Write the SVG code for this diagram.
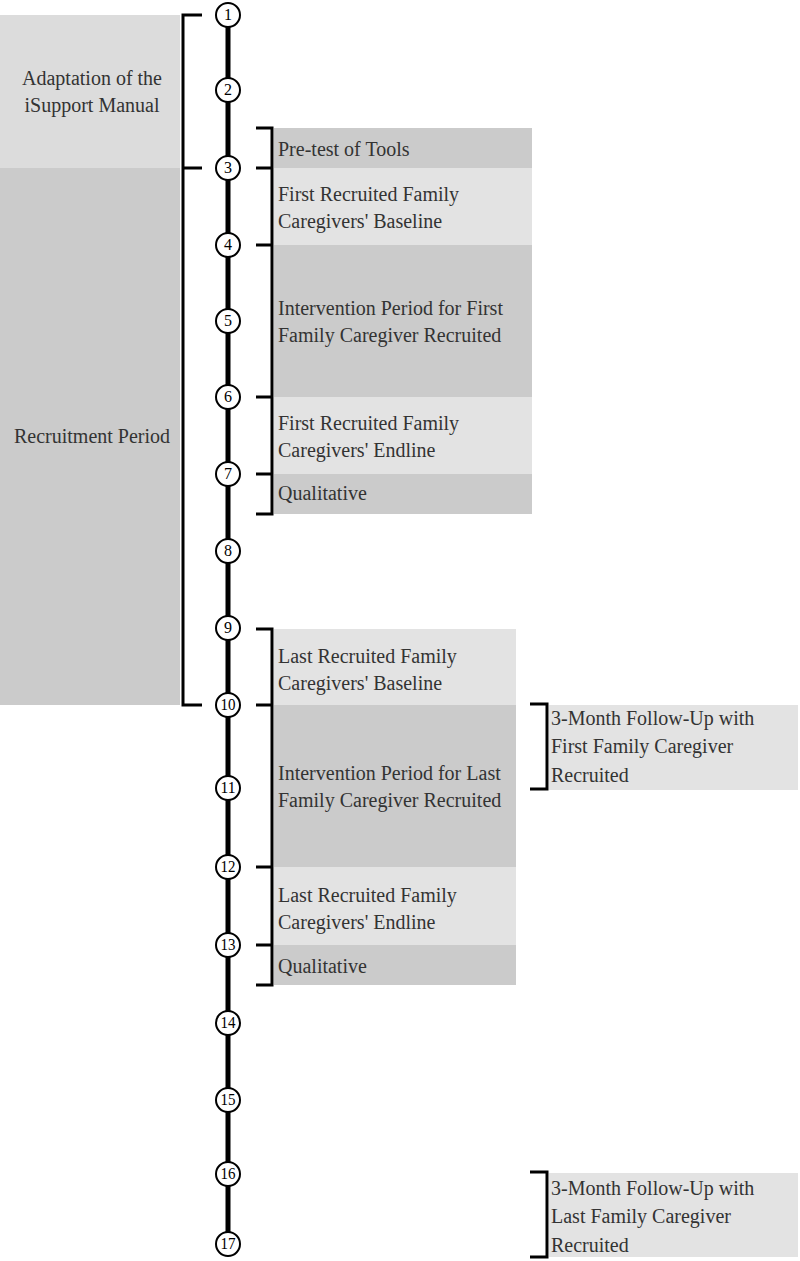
<svg xmlns="http://www.w3.org/2000/svg" width="800" height="1261" viewBox="0 0 800 1261">
<style>
.t{font-family:"Liberation Serif","DejaVu Serif",serif;font-size:20px;fill:#333}
.n{font-family:"Liberation Serif","DejaVu Serif",serif;font-size:16px;fill:#000;text-anchor:middle}
.dk{fill:#cbcbcb}
.lt{fill:#e3e3e3}
.br{fill:none;stroke:#000;stroke-width:3}
.c{fill:#fff;stroke:#000;stroke-width:2}
</style>
<rect width="800" height="1261" fill="#fff"/>
<g id="adaptation">
<rect x="0" y="15" width="180" height="153" fill="#dcdcdc"/>
<text class="t" x="92" y="85" text-anchor="middle">Adaptation of the</text>
<text class="t" x="92" y="112" text-anchor="middle">iSupport Manual</text>
</g>
<g id="recruitment">
<rect x="0" y="168" width="180" height="537" class="dk"/>
<text class="t" x="92" y="443" text-anchor="middle">Recruitment Period</text>
</g>
<g id="pretest"><rect x="274" y="128" width="258" height="40" class="dk"/><text class="t" x="278" y="156">Pre-test of Tools</text></g>
<g id="first-baseline"><rect x="274" y="168" width="258" height="77" class="lt"/><text class="t" x="278" y="201">First Recruited Family</text><text class="t" x="278" y="228">Caregivers' Baseline</text></g>
<g id="first-intervention"><rect x="274" y="245" width="258" height="152" class="dk"/><text class="t" x="278" y="315">Intervention Period for First</text><text class="t" x="278" y="342">Family Caregiver Recruited</text></g>
<g id="first-endline"><rect x="274" y="397" width="258" height="77" class="lt"/><text class="t" x="278" y="430">First Recruited Family</text><text class="t" x="278" y="457">Caregivers' Endline</text></g>
<g id="first-qual"><rect x="274" y="474" width="258" height="40" class="dk"/><text class="t" x="278" y="500">Qualitative</text></g>
<g id="last-baseline"><rect x="274" y="629" width="242" height="76" class="lt"/><text class="t" x="278" y="663">Last Recruited Family</text><text class="t" x="278" y="690">Caregivers' Baseline</text></g>
<g id="last-intervention"><rect x="274" y="705" width="242" height="162" class="dk"/><text class="t" x="278" y="780">Intervention Period for Last</text><text class="t" x="278" y="807">Family Caregiver Recruited</text></g>
<g id="last-endline"><rect x="274" y="867" width="242" height="78" class="lt"/><text class="t" x="278" y="902">Last Recruited Family</text><text class="t" x="278" y="929">Caregivers' Endline</text></g>
<g id="last-qual"><rect x="274" y="945" width="242" height="40" class="dk"/><text class="t" x="278" y="973">Qualitative</text></g>
<g id="followup-first"><rect x="549" y="705" width="249" height="85" class="lt"/><text class="t" x="551" y="725">3-Month Follow-Up with</text><text class="t" x="551" y="753">First Family Caregiver</text><text class="t" x="551" y="782">Recruited</text></g>
<g id="followup-last"><rect x="549" y="1173" width="249" height="84" class="lt"/><text class="t" x="551" y="1195">3-Month Follow-Up with</text><text class="t" x="551" y="1223">Last Family Caregiver</text><text class="t" x="551" y="1252">Recruited</text></g>
<g id="connectors">
<line x1="228" y1="15" x2="228" y2="1244" stroke="#000" stroke-width="5"/>
<path class="br" d="M202 15H183V705H202M183 168H202"/>
<path class="br" d="M256 128H272V514H256M256 168H272M256 245H272M256 397H272M256 474H272"/>
<path class="br" d="M256 629H272V985H256M256 705H272M256 867H272M256 945H272"/>
<path class="br" d="M530 704H547V789H530"/>
<path class="br" d="M530 1172H547V1257H530"/>
</g>
<g id="n1"><circle class="c" cx="228" cy="15" r="12"/><text class="n" x="228" y="20">1</text></g>
<g id="n2"><circle class="c" cx="228" cy="90" r="12"/><text class="n" x="228" y="95">2</text></g>
<g id="n3"><circle class="c" cx="228" cy="168" r="12"/><text class="n" x="228" y="173">3</text></g>
<g id="n4"><circle class="c" cx="228" cy="245" r="12"/><text class="n" x="228" y="250">4</text></g>
<g id="n5"><circle class="c" cx="228" cy="321" r="12"/><text class="n" x="228" y="326">5</text></g>
<g id="n6"><circle class="c" cx="228" cy="397" r="12"/><text class="n" x="228" y="402">6</text></g>
<g id="n7"><circle class="c" cx="228" cy="474" r="12"/><text class="n" x="228" y="479">7</text></g>
<g id="n8"><circle class="c" cx="228" cy="551" r="12"/><text class="n" x="228" y="556">8</text></g>
<g id="n9"><circle class="c" cx="228" cy="628" r="12"/><text class="n" x="228" y="633">9</text></g>
<g id="n10"><circle class="c" cx="228" cy="705" r="12"/><text class="n" x="228" y="710" textLength="15" lengthAdjust="spacingAndGlyphs">10</text></g>
<g id="n11"><circle class="c" cx="228" cy="788" r="12"/><text class="n" x="228" y="793" textLength="15" lengthAdjust="spacingAndGlyphs">11</text></g>
<g id="n12"><circle class="c" cx="228" cy="867" r="12"/><text class="n" x="228" y="872" textLength="15" lengthAdjust="spacingAndGlyphs">12</text></g>
<g id="n13"><circle class="c" cx="228" cy="945" r="12"/><text class="n" x="228" y="950" textLength="15" lengthAdjust="spacingAndGlyphs">13</text></g>
<g id="n14"><circle class="c" cx="228" cy="1023" r="12"/><text class="n" x="228" y="1028" textLength="15" lengthAdjust="spacingAndGlyphs">14</text></g>
<g id="n15"><circle class="c" cx="228" cy="1100" r="12"/><text class="n" x="228" y="1105" textLength="15" lengthAdjust="spacingAndGlyphs">15</text></g>
<g id="n16"><circle class="c" cx="228" cy="1174" r="12"/><text class="n" x="228" y="1179" textLength="15" lengthAdjust="spacingAndGlyphs">16</text></g>
<g id="n17"><circle class="c" cx="228" cy="1244" r="12"/><text class="n" x="228" y="1249" textLength="15" lengthAdjust="spacingAndGlyphs">17</text></g>
</svg>
